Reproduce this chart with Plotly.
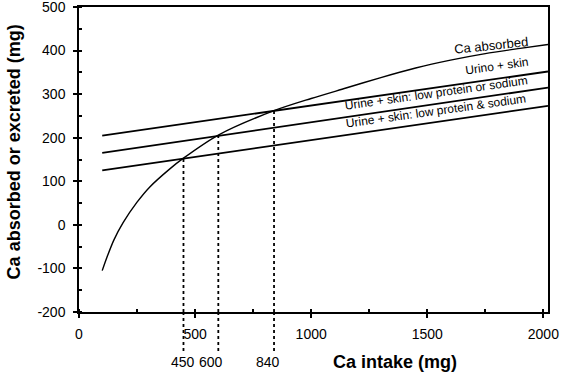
import plotly.graph_objects as go

# ---------------- data ----------------
intake = [100, 120, 150, 190, 250, 305, 390, 450, 600, 840, 1000, 1150, 1300, 1450, 1600, 1750, 1900, 2020]
ca_absorbed = [-105, -75, -35, 5, 52, 87, 128, 153, 206, 262, 290, 314, 338, 360, 378, 393, 405, 414]

line_x = [100, 2020]
urine_skin = [205, 352]
urine_skin_low_or = [165, 315]
urine_skin_low_and = [125, 273]

cross_x = [450, 600, 840]
cross_y = [153, 206, 262]
cross_labels = ["450", "600", "840"]

x_tick_vals = [0, 500, 1000, 1500, 2000]
x_tick_text = ["0", "500", "1000", "1500", "2000"]
y_tick_vals = [-200, -100, 0, 100, 200, 300, 400, 500]
y_tick_text = ["-200", "-100", "0", "100", "200", "300", "400", "500"]

series_labels = ["Ca absorbed", "Urino + skin",
                 "Urine + skin: low protein or sodium",
                 "Urine + skin: low protein & sodium"]

# ---------------- style / placement ----------------
FONT = "Liberation Sans, Arial, Helvetica, sans-serif"
label_pos_x = [1774, 1802, 1537, 1537]
label_pos_y = [411, 365, 303, 262]
label_angle = [-6, -8, -8, -8]
label_size = [13, 12, 12, 12]
cross_label_shift = [0, -7, -6]

fig = go.Figure()

fig.add_trace(go.Scatter(x=intake, y=ca_absorbed, mode="lines",
                         line=dict(color="black", width=1.4, shape="spline", smoothing=0.8),
                         showlegend=False, hoverinfo="skip"))
for ys in (urine_skin, urine_skin_low_or, urine_skin_low_and):
    fig.add_trace(go.Scatter(x=line_x, y=ys, mode="lines",
                             line=dict(color="black", width=1.8),
                             showlegend=False, hoverinfo="skip"))

for cx, cy, lab, sh in zip(cross_x, cross_y, cross_labels, cross_label_shift):
    fig.add_shape(type="line", xref="x", yref="y", x0=cx, x1=cx, y0=-200, y1=cy,
                  line=dict(color="black", width=1.8, dash="3px,3px"))
    fig.add_shape(type="line", xref="x", yref="paper", x0=cx, x1=cx, y0=0, y1=-0.13,
                  line=dict(color="black", width=1.8, dash="3px,3px"))
    fig.add_annotation(x=cx, y=-0.163, xref="x", yref="paper", text=lab,
                       showarrow=False, xanchor="center", yanchor="middle", xshift=sh,
                       font=dict(family=FONT, size=14, color="black"))

for t, lx, ly, ang, sz in zip(series_labels, label_pos_x, label_pos_y, label_angle, label_size):
    fig.add_annotation(x=lx, y=ly, xref="x", yref="y", text=t, showarrow=False,
                       textangle=ang, xanchor="center", yanchor="middle",
                       font=dict(family=FONT, size=sz, color="black"))

# axis titles
fig.add_annotation(x=0.674, y=-0.163, xref="paper", yref="paper", text="<b>Ca intake (mg)</b>",
                   showarrow=False, xanchor="center", yanchor="middle",
                   font=dict(family=FONT, size=18, color="black"))
fig.add_annotation(x=-0.139, y=0.526, xref="paper", yref="paper",
                   text="<b>Ca absorbed or excreted (mg)</b>", textangle=-90,
                   showarrow=False, xanchor="center", yanchor="middle",
                   font=dict(family=FONT, size=18, color="black"))

fig.update_xaxes(range=[0, 2020], tickmode="array", tickvals=x_tick_vals, ticktext=x_tick_text,
                 automargin=False, ticklabeloverflow="allow",
                 showline=True, linecolor="black", linewidth=1.5, mirror=True,
                 ticks="outside", ticklen=4, tickwidth=1.5, tickcolor="black",
                 ticklabelstandoff=4,
                 minor=dict(dtick=250, tick0=0, ticks="inside", ticklen=3, tickcolor="black", showgrid=False),
                 showgrid=False, zeroline=False,
                 tickfont=dict(family=FONT, size=14, color="black"))
fig.update_yaxes(range=[-200, 500], tickmode="array", tickvals=y_tick_vals, ticktext=y_tick_text,
                 automargin=False, ticklabeloverflow="allow",
                 showline=True, linecolor="black", linewidth=1.5, mirror=True,
                 ticks="outside", ticklen=4, tickwidth=1.5, tickcolor="black",
                 ticklabelstandoff=5,
                 minor=dict(dtick=50, tick0=0, ticks="inside", ticklen=3, tickcolor="black", showgrid=False),
                 showgrid=False, zeroline=False,
                 tickfont=dict(family=FONT, size=14, color="black"))

fig.update_layout(width=562, height=383, autosize=False,
                  margin=dict(l=79, r=14, t=7, b=71),
                  paper_bgcolor="white", plot_bgcolor="white",
                  font=dict(family=FONT, color="black"))

fig.write_html("out.html", config={"displayModeBar": False},
               post_script="document.body.style.margin='0';document.body.style.overflow='hidden';")
